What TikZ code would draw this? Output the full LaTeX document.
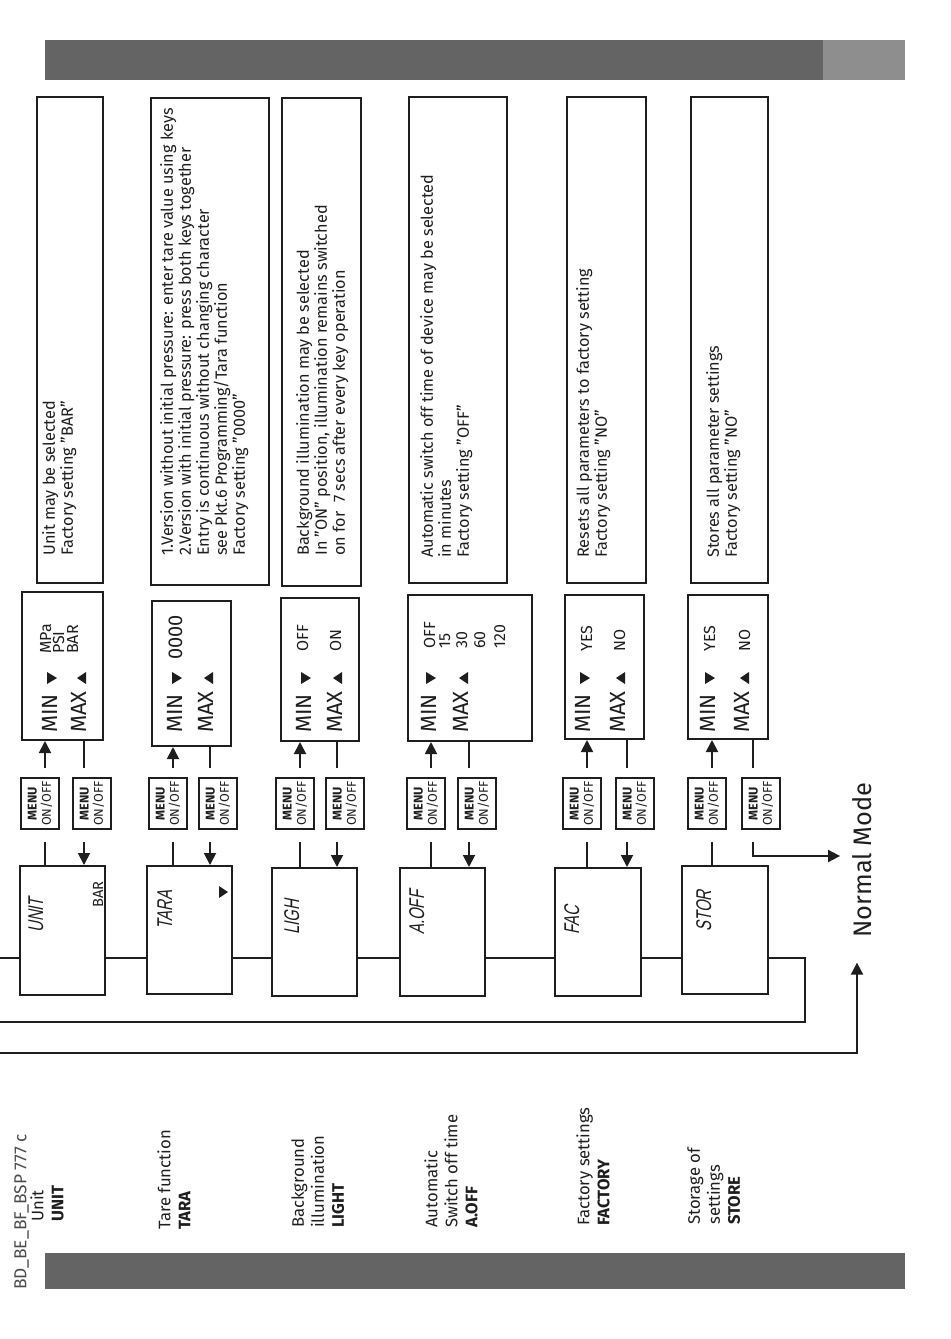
\documentclass[tikz,border=0pt]{standalone}
\usepackage{fontspec}
\usepackage{graphicx}
\setmainfont{Fira Sans}
\newfontfamily\lcdfont[FakeStretch=0.7,FakeSlant=0.2]{Liberation Sans}
\usetikzlibrary{arrows.meta,fit}

\definecolor{bardark}{HTML}{646464}
\definecolor{barlight}{HTML}{8E8E8E}
\definecolor{ink}{HTML}{1E1E1E}

\newcommand{\menukey}{\rotatebox{90}{\shortstack{\textbf{MENU}\\ON/OFF}}}

\tikzset{
  frame/.style={draw=ink, line width=1.5pt, inner sep=0pt},
  keybtn/.style={draw=ink, line width=1.4pt, inner sep=0pt, minimum width=28.5pt,
    minimum height=38.25pt, font=\fontsize{9.5}{9}\selectfont, text=ink},
  wire/.style={draw=ink, line width=1.4pt},
  arr/.style={wire, -{Triangle[length=9pt,width=9pt]}},
  vert/.style={rotate=90, inner sep=0pt, text=ink},
  desc/.style={vert, anchor=north west, align=left, font=\fontsize{12.2}{13.5}\selectfont},
  sidetext/.style={vert, anchor=north west, align=left, font=\fontsize{12.5}{15}\selectfont},
  lcd/.style={vert, anchor=base west, font=\lcdfont\fontsize{16}{16}\selectfont},
  minmax/.style={vert, anchor=base west, font=\fontsize{16.5}{18}\selectfont},
  val/.style={vert, anchor=base west, font=\fontsize{12}{12}\selectfont}
}

\begin{document}
\begin{tikzpicture}[x=0.75pt,y=-0.75pt]
\useasboundingbox (0,0) rectangle (950,1339);
\fill[white] (0,0) rectangle (950,1339);

% page bars
\fill[bardark] (45,40) rectangle (823,80);
\fill[barlight] (823,40) rectangle (905,80);
\fill[bardark] (45,1253) rectangle (905,1289);

% side labels
\node[vert, anchor=north west, font=\fontsize{13}{13}\selectfont, text=ink!80] (docid) at (14,1290) {BD\_BE\_BF\_BSP 777 c};
\node[sidetext] (ulab) at (30,1222) {Unit\\\textbf{UNIT}};
\node[sidetext] (tlab) at (157,1230) {Tare function\\\textbf{TARA}};
\node[sidetext] (llab) at (291,1228) {Background\\illumination\\\textbf{LIGHT}};
\node[sidetext] (alab) at (424,1228) {Automatic\\Switch off time\\\textbf{A.OFF}};
\node[sidetext] (flab) at (576,1226) {Factory settings\\\textbf{FACTORY}};
\node[sidetext] (slab) at (687,1225) {Storage of\\settings\\\textbf{STORE}};

% display boxes
\node[frame, fit={(20,866) (105,995)}] (udisp) {};
\node[frame, fit={(147,866) (232,994)}] (tdisp) {};
\node[frame, fit={(272,868) (357,996)}] (ldisp) {};
\node[frame, fit={(400,868) (485,996)}] (adisp) {};
\node[frame, fit={(555,868) (641,996)}] (fdisp) {};
\node[frame, fit={(682,866) (768,994)}] (sdisp) {};
\node[lcd] (ulcd) at (43,933) {UNIT};
\node[lcd] (tlcd) at (172,930) {TARA};
\node[lcd] (llcd) at (299,935) {LIGH};
\node[lcd] (alcd) at (424,935) {A.OFF};
\node[lcd] (flcd) at (579,935) {FAC};
\node[lcd] (slcd) at (711,932) {STOR};
\node[vert, anchor=base west, font=\fontsize{11}{12}\selectfont] (ubar) at (103,908) {BAR};
\fill[ink] (219,886) -- (219,898) -- (228,892) -- cycle;

% keys
\node[keybtn] (ub1) at (40,803.5) {\menukey};
\node[keybtn] (ub2) at (92,803.5) {\menukey};
\node[keybtn] (tb1) at (168,803.5) {\menukey};
\node[keybtn] (tb2) at (218,803.5) {\menukey};
\node[keybtn] (lb1) at (295,803.5) {\menukey};
\node[keybtn] (lb2) at (345,803.5) {\menukey};
\node[keybtn] (ab1) at (426,803.5) {\menukey};
\node[keybtn] (ab2) at (477,803.5) {\menukey};
\node[keybtn] (fb1) at (582,803.5) {\menukey};
\node[keybtn] (fb2) at (635,803.5) {\menukey};
\node[keybtn] (sb1) at (707,803.5) {\menukey};
\node[keybtn] (sb2) at (761,803.5) {\menukey};

% selection boxes
\node[frame, fit={(22,592) (103,740)}] (usel) {};
\node[frame, fit={(152,601) (231,746)}] (tsel) {};
\node[frame, fit={(281,598) (359,741)}] (lsel) {};
\node[frame, fit={(408,595) (532,741)}] (asel) {};
\node[frame, fit={(565,595) (644,739)}] (fsel) {};
\node[frame, fit={(688,595) (768,739)}] (ssel) {};

\node[minmax] (umin) at (57,733) {MIN};
\node[minmax] (umax) at (86,733) {MAX};
\fill[ink] (47,672) -- (47,684) -- (57,678) -- cycle;
\fill[ink] (86,672) -- (86,684) -- (77,678) -- cycle;
\node[val] (umpa) at (51,654) {MPa};
\node[val] (upsi) at (64,654) {PSI};
\node[val] (ubarv) at (78,654) {BAR};

\node[minmax] (tmin) at (182,733) {MIN};
\node[minmax] (tmax) at (213,733) {MAX};
\fill[ink] (172,672) -- (172,684) -- (182,678) -- cycle;
\fill[ink] (213,672) -- (213,684) -- (204,678) -- cycle;
\node[minmax, font=\fontsize{15}{18}\selectfont] (tzero) at (182,660) {0000};

\node[minmax] (lmin) at (311,733) {MIN};
\node[minmax] (lmax) at (342,733) {MAX};
\fill[ink] (301,672) -- (301,684) -- (311,678) -- cycle;
\fill[ink] (342,672) -- (342,684) -- (333,678) -- cycle;
\node[val] (loff) at (308,652) {OFF};
\node[val] (lon) at (341,652) {ON};

\node[minmax] (amin) at (436,733) {MIN};
\node[minmax] (amax) at (468,733) {MAX};
\fill[ink] (426,672) -- (426,684) -- (436,678) -- cycle;
\fill[ink] (468,672) -- (468,684) -- (459,678) -- cycle;
\node[val] (aoff) at (435,649) {OFF};
\node[val] (a15) at (450,649) {15};
\node[val] (a30) at (467,649) {30};
\node[val] (a60) at (485,649) {60};
\node[val] (a120) at (505,649) {120};

\node[minmax] (fmin) at (590,733) {MIN};
\node[minmax] (fmax) at (625,733) {MAX};
\fill[ink] (580,672) -- (580,684) -- (590,678) -- cycle;
\fill[ink] (625,672) -- (625,684) -- (616,678) -- cycle;
\node[val] (fyes) at (592,652) {YES};
\node[val] (fno) at (625,652) {NO};

\node[minmax] (smin) at (715,733) {MIN};
\node[minmax] (smax) at (749,733) {MAX};
\fill[ink] (705,672) -- (705,684) -- (715,678) -- cycle;
\fill[ink] (749,672) -- (749,684) -- (740,678) -- cycle;
\node[val] (syes) at (715,652) {YES};
\node[val] (sno) at (750,652) {NO};

% description boxes
\node[frame, fit={(37,97) (103,583)}] (udesc) {};
\node[frame, fit={(151,98) (269,585)}] (tdesc) {};
\node[frame, fit={(282,98) (361,586)}] (ldesc) {};
\node[frame, fit={(409,97) (507,583)}] (adesc) {};
\node[frame, fit={(567,97) (646,583)}] (fdesc) {};
\node[frame, fit={(691,97) (768,583)}] (sdesc) {};
\node[desc] (utxt) at (42,556) {Unit may be selected\\Factory setting "BAR"};
\node[desc] (ttxt) at (160,556) {1.Version without initial pressure: enter tare value using keys\\2.Version with initial pressure: press both keys together\\Entry is continuous without changing character\\see Pkt.6 Programming/Tara function\\Factory setting "0000"};
\node[desc] (ltxt) at (296,556) {Background illumination may be selected\\In "ON" position, illumination remains switched\\on for~ 7 secs after every key operation};
\node[desc] (atxt) at (420,558) {Automatic switch off time of device may be selected\\in minutes\\Factory setting "OFF"};
\node[desc] (ftxt) at (576,558) {Resets all parameters to factory setting\\Factory setting "NO"};
\node[desc] (stxt) at (706,558) {Stores all parameter settings\\Factory setting "NO"};

% key connectors
\foreach \r in {u,t,l,a,f,s}{
  \draw[arr] ([xshift=3.75pt,yshift=6.75pt]\r b1.north) -- ([xshift=3.75pt]\r b1.north |- \r sel.south);
  \draw[wire] ([xshift=-6pt]\r b2.north |- \r sel.south) -- ([xshift=-6pt,yshift=6.75pt]\r b2.north);
  \draw[wire] ([xshift=3.75pt,yshift=-9pt]\r b1.south) -- ([xshift=3.75pt]\r b1.south |- \r disp.north);
}
\foreach \r in {u,t,l,a,f}
  \draw[arr] ([xshift=-6pt,yshift=-9pt]\r b2.south) -- ([xshift=-6pt]\r b2.south |- \r disp.north);

% menu loop
\node[inner xsep=9pt, inner ysep=18.75pt, font=\fontsize{19}{22}\selectfont, text=ink] (nm) at (862,860) {\rotatebox{90}{Normal Mode}};
\coordinate (lp) at (0,958);
\coordinate (rt) at (805,1022);
\coordinate (lb) at (0,1022);
\coordinate (rb) at (0,1053);
\draw[wire] (lp) -- (udisp.west |- lp);
\draw[wire] (udisp.east |- lp) -- (tdisp.west |- lp);
\draw[wire] (tdisp.east |- lp) -- (ldisp.west |- lp);
\draw[wire] (ldisp.east |- lp) -- (adisp.west |- lp);
\draw[wire] (adisp.east |- lp) -- (fdisp.west |- lp);
\draw[wire] (fdisp.east |- lp) -- (sdisp.west |- lp);
\draw[wire] (sdisp.east |- lp) -| (rt) -- (lb);
\draw[arr] (rb) -| ([xshift=-3.75pt]nm.south);
\draw[arr] ([xshift=-6pt,yshift=-9pt]sb2.south) |- ([yshift=3pt]nm.west);
\end{tikzpicture}
\end{document}
